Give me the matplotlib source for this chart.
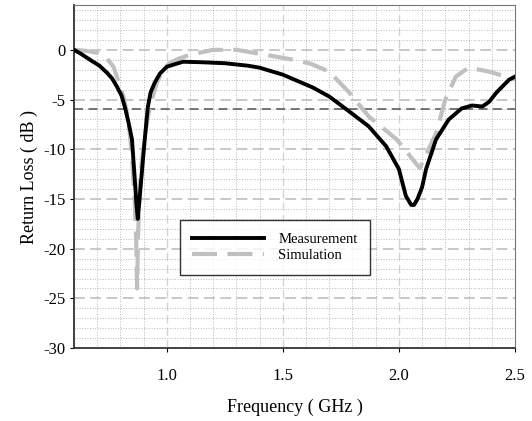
import numpy as np
import matplotlib.pyplot as plt
from matplotlib.ticker import MultipleLocator, FixedLocator

meas_freq = [0.60, 0.63, 0.669, 0.71, 0.742, 0.765, 0.785, 0.805, 0.82, 0.835, 0.85,
             0.862, 0.869, 0.875, 0.882, 0.89, 0.905, 0.918, 0.93, 0.948, 0.97,
             1.00, 1.07, 1.15, 1.25, 1.35, 1.40, 1.50, 1.57, 1.63, 1.70, 1.786,
             1.87, 1.945, 2.00, 2.03, 2.053, 2.065, 2.08, 2.10, 2.117, 2.16, 2.215,
             2.27, 2.315, 2.36, 2.39, 2.42, 2.475, 2.50]
meas_rl = [0.0, -0.4, -1.0, -1.6, -2.3, -2.9, -3.7, -4.6, -5.8, -7.3, -9.0,
           -13.0, -15.5, -17.0, -15.2, -13.0, -9.0, -5.8, -4.3, -3.3, -2.4,
           -1.7, -1.2, -1.25, -1.35, -1.6, -1.8, -2.5, -3.2, -3.8, -4.7, -6.2,
           -7.7, -9.7, -12.0, -14.7, -15.6, -15.6, -15.0, -13.8, -12.0, -9.0, -7.0,
           -5.9, -5.6, -5.7, -5.2, -4.3, -3.0, -2.7]

# Simulated return loss
sim_freq = [0.60, 0.65, 0.70, 0.74, 0.77, 0.80, 0.815, 0.828, 0.84, 0.85, 0.862,
            0.868, 0.872, 0.876, 0.884, 0.895, 0.905, 0.915, 0.927, 0.957, 0.985,
            1.013, 1.05, 1.10, 1.20, 1.30, 1.40, 1.545, 1.62, 1.70, 1.786, 1.87,
            1.99, 2.09, 2.16, 2.20, 2.245, 2.30, 2.39, 2.475, 2.50]
sim_rl = [0.0, -0.1, -0.3, -0.8, -1.7, -3.7, -4.9, -6.3, -8.3, -10.7, -15.4,
          -19.0, -24.0, -19.0, -13.0, -10.8, -9.0, -7.2, -5.7, -3.3, -2.0,
          -1.3, -0.9, -0.5, 0.0, 0.0, -0.4, -1.0, -1.4, -2.2, -4.3, -6.7,
          -9.0, -11.9, -8.4, -5.0, -2.7, -1.8, -2.2, -2.8, -3.0]

x_ticks = [1.0, 1.5, 2.0, 2.5]
y_ticks = [0, -5, -10, -15, -20, -25, -30]
threshold = -6

plt.rcParams['font.family'] = ['Liberation Serif', 'DejaVu Serif']
plt.rcParams['axes.unicode_minus'] = False

fig = plt.figure(figsize=(5.32, 4.21), dpi=100)
ax = fig.add_axes([0.139, 0.173, 0.829, 0.815])

# grid
ax.xaxis.set_minor_locator(MultipleLocator(0.1))
ax.yaxis.set_minor_locator(MultipleLocator(1))
ax.grid(which='minor', color='#b8b8b8', linestyle=':', linewidth=0.7)
for y in y_ticks[:-1]:
    ax.axhline(y, color='#c4c4c4', linestyle=(0, (6, 3)), linewidth=1.3, zorder=1)
for x in x_ticks[:-1]:
    ax.axvline(x, color='#d4d4d4', linestyle=(0, (6, 3)), linewidth=1.0, zorder=1)
ax.axhline(threshold, color='#6a6a6a', linestyle=(0, (5, 3)), linewidth=1.3, zorder=2)

ax.plot(meas_freq, meas_rl, color='black', linewidth=2.8, label='Measurement',
        solid_joinstyle='round', zorder=4)
ax.plot(sim_freq, sim_rl, color='#c0c0c0', linewidth=3.0, linestyle=(0, (6, 2.5)),
        dash_joinstyle='round', label='Simulation', zorder=3)

ax.set_xlim(0.6, 2.5)
ax.set_ylim(-30, 4.5)
ax.xaxis.set_major_locator(FixedLocator(x_ticks))
ax.yaxis.set_major_locator(FixedLocator(y_ticks))
ax.set_xticklabels(['1.0', '1.5', '2.0', '2.5'])
ax.tick_params(which='major', direction='out', length=3, labelsize=12, pad=11)
ax.tick_params(which='minor', length=0)
ax.tick_params(axis='y', pad=3)

for side in ['left', 'bottom']:
    ax.spines[side].set_color('#333333')
    ax.spines[side].set_linewidth(1.3)
for side in ['top', 'right']:
    ax.spines[side].set_color('#777777')

ax.set_xlabel('Frequency ( GHz )', fontsize=13, labelpad=11)
ax.set_ylabel('Return Loss ( dB )', fontsize=13, labelpad=4)

leg = ax.legend(loc='upper left', bbox_to_anchor=(0.24, 0.373), fontsize=10.5,
                frameon=True, fancybox=False, edgecolor='black', handlelength=4.9,
                handletextpad=1.0, borderpad=0.85, labelspacing=0.22,
                borderaxespad=0)
leg.get_frame().set_linewidth(1.0)

fig.savefig('out.png', dpi=100)
